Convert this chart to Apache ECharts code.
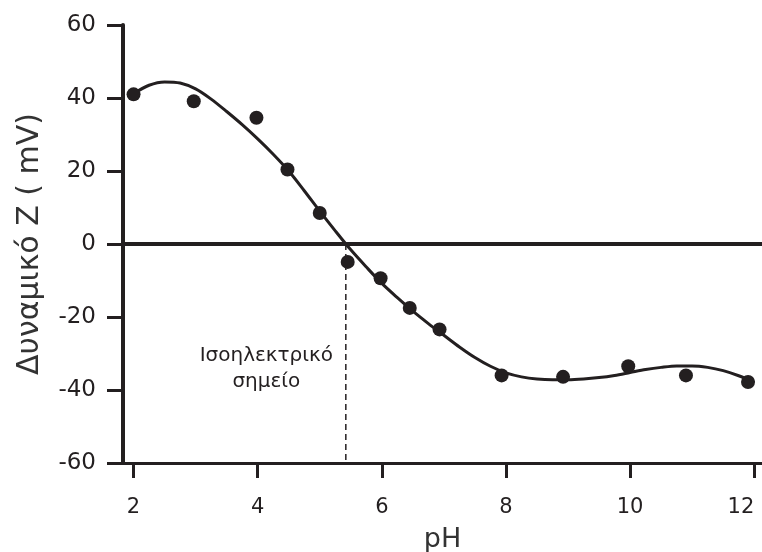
<!DOCTYPE html>
<html>
<head>
<meta charset="utf-8">
<script src="https://cdn.jsdelivr.net/npm/echarts@6.0.0/dist/echarts.min.js"></script>
<style>
  html, body { margin: 0; padding: 0; background: #fff; }
  #chartDom { width: 762px; height: 552px; }
</style>
</head>
<body>
<div id="chartDom"></div>
<script>
// measured points (pH, zeta potential mV)
const pointPH = [2, 2.97, 3.98, 4.48, 5, 5.45, 5.98, 6.45, 6.93, 7.93, 8.92, 9.97, 10.9, 11.9]
const pointZeta = [41, 39.1, 34.6, 20.4, 8.5, -4.9, -9.4, -17.5, -23.4, -36, -36.4, -33.5, -36, -37.8]

// fitted curve
const curvePH = [2.0, 2.25, 2.5, 2.75, 3.0, 3.25, 3.5, 3.75, 4.0, 4.25, 4.5, 4.75, 5.0, 5.25, 5.5, 5.75, 6.0, 6.25, 6.5, 6.75, 7.0, 7.25, 7.5, 7.75, 8.0, 8.25, 8.5, 8.75, 9.0, 9.25, 9.5, 9.75, 10.0, 10.25, 10.5, 10.75, 11.0, 11.25, 11.5, 11.75, 12.0]
const curveZeta = [41.2, 43.5, 44.4, 44.1, 42.5, 39.7, 36.3, 32.7, 28.8, 24.6, 20.0, 14.6, 9.0, 3.6, -1.6, -6.3, -10.8, -14.7, -18.4, -21.8, -25.0, -28.2, -31.1, -33.5, -35.3, -36.4, -37.0, -37.2, -37.2, -37.0, -36.6, -36.0, -35.2, -34.4, -33.8, -33.4, -33.4, -33.8, -34.7, -36.1, -37.9]

const isoPH = 5.42
const xTicks = [2, 4, 6, 8, 10, 12]
const annotation = ['Ισοηλεκτρικό', 'σημείο']

const ink = '#231f20'
const fontFamily = '"DejaVu Sans", sans-serif'

const canvasChart = echarts.init(document.getElementById('chartDom'))
const option = {
  animation: false,
  grid: {
    left: 123,
    right: 0,
    top: 25,
    bottom: 89,
    outerBoundsMode: 'none'
  },
  xAxis: {
    type: 'value',
    min: 1.83,
    max: 12.125,
    name: 'pH',
    nameLocation: 'middle',
    nameGap: 63,
    nameTextStyle: { fontSize: 27, color: '#333', fontFamily: fontFamily },
    splitLine: { show: false },
    axisLine: { onZero: false, lineStyle: { color: ink, width: 3 } },
    axisTick: { customValues: xTicks, length: 15, lineStyle: { color: ink, width: 3 } },
    axisLabel: {
      customValues: xTicks,
      alignMaxLabel: 'right',
      margin: 34,
      fontSize: 21,
      color: ink,
      fontFamily: fontFamily
    }
  },
  yAxis: {
    type: 'value',
    min: -60,
    max: 60,
    interval: 20,
    name: 'Δυναμικό Z ( mV)',
    nameLocation: 'middle',
    nameGap: 78,
    nameTextStyle: { fontSize: 30, color: '#333', fontFamily: fontFamily },
    splitLine: { show: false },
    axisLine: { show: true, lineStyle: { color: ink, width: 4 } },
    axisTick: { show: true, length: 16, lineStyle: { color: ink, width: 3 } },
    axisLabel: {
      margin: 27,
      fontSize: 23,
      color: ink,
      fontFamily: fontFamily
    }
  },
  series: [
    {
      name: 'curve',
      type: 'line',
      data: curvePH.map((x, i) => [x, curveZeta[i]]),
      smooth: 0.3,
      showSymbol: false,
      lineStyle: { color: ink, width: 3 },
      z: 3,
      markLine: {
        silent: true,
        symbol: 'none',
        label: { show: false },
        lineStyle: { color: ink, width: 4, type: 'solid' },
        data: [{ yAxis: 0 }]
      }
    },
    {
      name: 'iso',
      type: 'line',
      data: [[isoPH, 0], [isoPH, -60]],
      showSymbol: false,
      lineStyle: { color: ink, width: 1.5, type: [6, 4] },
      z: 2,
      markPoint: {
        silent: true,
        symbol: 'circle',
        symbolSize: 0,
        label: {
          show: true,
          formatter: annotation.join('\n'),
          fontSize: 20,
          lineHeight: 26,
          color: ink,
          fontFamily: fontFamily,
          align: 'center'
        },
        data: [{ coord: [4.14, -34.2] }]
      }
    },
    {
      name: 'points',
      type: 'scatter',
      data: pointPH.map((x, i) => [x, pointZeta[i]]),
      symbolSize: 14,
      itemStyle: { color: ink, opacity: 1 },
      z: 4
    }
  ]
}
canvasChart.setOption(option)
</script>
</body>
</html>
